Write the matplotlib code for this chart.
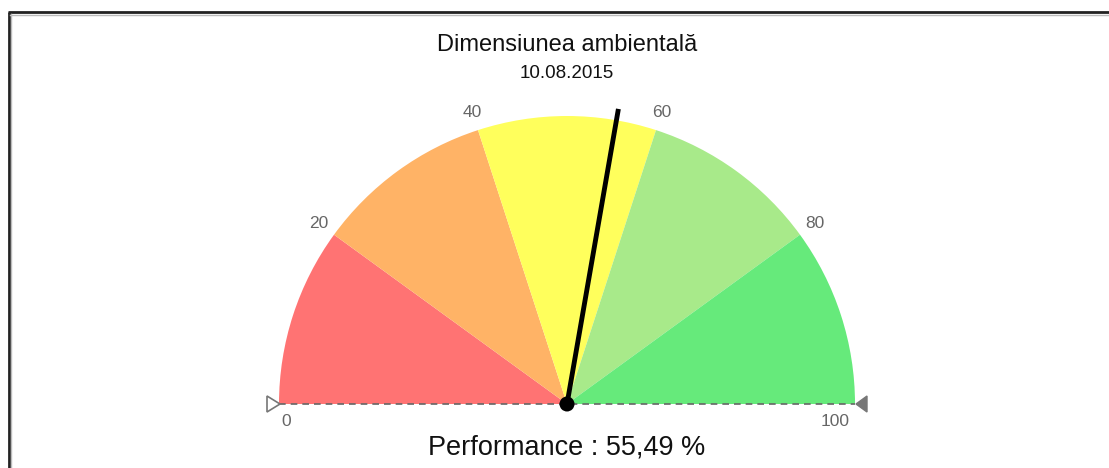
import matplotlib
matplotlib.use("Agg")
import matplotlib.pyplot as plt
from matplotlib.patches import Wedge, Circle, Polygon
import numpy as np

plt.rcParams['font.family'] = ['Liberation Sans', 'DejaVu Sans']

# Data
band_edges = [0, 20, 40, 60, 80, 100]
band_colors = ['#FF7373', '#FFB366', '#FFFF5C', '#A8EA8A', '#66EA7B']
tick_values = [0, 20, 40, 60, 80, 100]
tick_labels = ['0', '20', '40', '60', '80', '100']
value = 55.49
title = 'Dimensiunea ambientală'
subtitle = '10.08.2015'
value_label = 'Performance : 55,49 %'

W, H = 1109, 468
fig = plt.figure(figsize=(W / 100, H / 100), dpi=100)
ax = fig.add_axes([0, 0, 1, 1])
ax.set_xlim(0, W)
ax.set_ylim(0, H)
ax.set_aspect('auto')
ax.axis('off')

cx, cy = 567, H - 404
R = 288
vmin, vmax = band_edges[0], band_edges[-1]

def ang(v):
    return 180.0 - (v - vmin) / (vmax - vmin) * 180.0

for lo, hi, c in zip(band_edges[:-1], band_edges[1:], band_colors):
    ax.add_patch(Wedge((cx, cy), R, ang(hi), ang(lo), facecolor=c, edgecolor='none', zorder=1))

# baseline dashed
ax.plot([cx - R, cx + R], [cy, cy], color='#666666', lw=1.2, ls=(0, (4, 3)), zorder=2)

# triangles
ax.add_patch(Polygon([[cx - R + 1, cy], [cx - R - 12, cy + 8], [cx - R - 12, cy - 8]],
                     closed=True, facecolor='white', edgecolor='#777777', lw=1.2, zorder=3))
ax.add_patch(Polygon([[cx + R + 1, cy], [cx + R + 12, cy + 8], [cx + R + 12, cy - 8]],
                     closed=True, facecolor='#777777', edgecolor='#777777', lw=1.0, zorder=3))

# tick labels
tick_fs = 12.5
for v, lab in zip(tick_values, tick_labels):
    if v == vmin:
        ax.text(cx - R + 7, cy - 17, lab, ha='center', va='center', fontsize=tick_fs, color='#666666')
    elif v == vmax:
        ax.text(cx + R - 20, cy - 17, lab, ha='center', va='center', fontsize=tick_fs, color='#666666')
    else:
        a = np.radians(ang(v))
        rr = R * 1.066
        ax.text(cx + rr * np.cos(a), cy + rr * np.sin(a), lab, ha='center', va='center',
                fontsize=tick_fs, color='#666666')

# needle
a = np.radians(ang(value))
L = R * 1.04
ax.plot([cx, cx + L * np.cos(a)], [cy, cy + L * np.sin(a)], color='black', lw=3.5,
        solid_capstyle='butt', zorder=5)
ax.add_patch(Circle((cx, cy), 7.5, facecolor='black', edgecolor='none', zorder=6))

# titles
ax.text(cx, H - 45, title, ha='center', va='center', fontsize=17, color='#111111')
ax.text(cx, H - 74, subtitle, ha='center', va='center', fontsize=13.5, color='#111111')
ax.text(cx, H - 447, value_label, ha='center', va='center', fontsize=19.5, color='#111111')

# frame (left and top borders)
ax.plot([8.5, 8.5], [0, H - 12], color='#222222', lw=2, solid_capstyle='butt')
ax.plot([8, W], [H - 12, H - 12], color='#222222', lw=2, solid_capstyle='butt')
ax.plot([10.5, 10.5], [0, H - 14], color='#bbbbbb', lw=1)
ax.plot([10, W], [H - 14.5, H - 14.5], color='#bbbbbb', lw=1)

fig.savefig('out.png', dpi=100)
